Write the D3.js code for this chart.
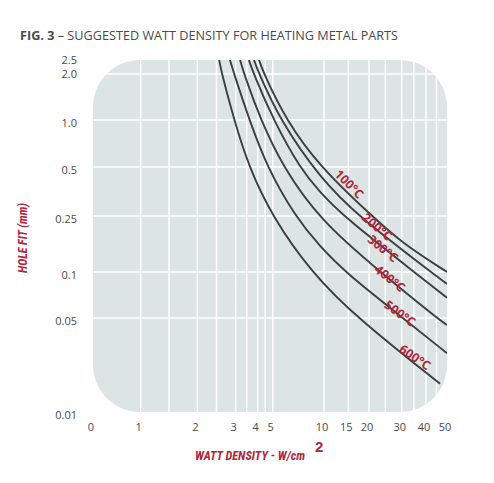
<!DOCTYPE html>
<html><head><meta charset="utf-8">
<script src="https://cdn.jsdelivr.net/npm/d3@7"></script>
<style>body{margin:0;background:#fff} svg{display:block}</style>
</head><body><svg id="c" width="494" height="483"></svg>
<script>
// ---- data ----
const xTicks = [0, 1, 2, 3, 4, 5, 10, 15, 20, 30, 40, 50];
const xMinorGrid = [1.5, 2.5, 3.5, 4.5, 25, 35, 45];
const yTicks = [0.01, 0.05, 0.1, 0.25, 0.5, 1.0, 2.0, 2.5];
const yTickLabels = ["0.01", "0.05", "0.1", "0.25", "0.5", "1.0", "2.0", "2.5"];
const yGrid = [0.05, 0.1, 0.25, 0.5, 1.0, 2.0];
const seriesNames = ["100°C", "200°C", "300°C", "400°C", "500°C", "600°C"];
const c100 = [[4.09,2.5],[4.42,2.0],[6.3,1.0],[9.61,0.5],[20.9,0.25],[30,0.178],[50,0.1]];
const c200 = [[3.83,2.5],[4.1,2.0],[5.71,1.0],[9.61,0.444],[17.3,0.25],[42.4,0.1],[50,0.087]];
const c300 = [[3.6,2.5],[3.82,2.0],[5.06,1.0],[7.76,0.485],[9.61,0.372],[13.9,0.25],[35.1,0.1],[50,0.072]];
const c400 = [[3.2,2.5],[3.38,2.0],[4.2,1.0],[6.0,0.5],[9.61,0.239],[23.4,0.1],[45.2,0.05],[50,0.047]];
const c500 = [[2.85,2.5],[2.96,2.0],[3.62,1.0],[4.62,0.5],[7.17,0.25],[9.61,0.168],[14.3,0.1],[30.5,0.05],[50,0.035]];
const c600 = [[2.57,2.5],[2.64,2.0],[2.96,1.0],[3.6,0.5],[4.95,0.25],[8.73,0.1],[17.1,0.05],[46.7,0.022]];
const labelX = [15.24, 22.5, 24.3, 26.4, 29.5, 35.5];
const labelY = [0.413, 0.221, 0.163, 0.093, 0.055, 0.0333];
const labelAngle = [45, 40, 39, 39, 36, 34];

// ---- layout ----
const svg = d3.select("#c");
const x = d3.scaleLinear().domain(xTicks)
  .range([93, 140.7, 197.3, 235.7, 257.7, 272.7, 324, 348.3, 369, 401.7, 426, 447]);
const y = d3.scaleLinear().domain(yTicks)
  .range([412, 318, 272, 216, 167, 120, 74, 60]);

const RED = "#b2253b", GREY = "#4a4a4a";
const px0 = x(0), px1 = x(50), py0 = y(2.5), py1 = y(0.01);

svg.append("defs").append("clipPath").attr("id", "plotclip")
  .append("rect").attr("x", px0).attr("y", py0)
  .attr("width", px1 - px0).attr("height", py1 - py0).attr("rx", 47).attr("ry", 47);

svg.append("rect").attr("x", px0).attr("y", py0)
  .attr("width", px1 - px0).attr("height", py1 - py0).attr("rx", 47).attr("ry", 47)
  .attr("fill", "#dde5e4");

const g = svg.append("g").attr("clip-path", "url(#plotclip)");
const vgrid = xTicks.filter(v => v > 0 && v < 50).concat(xMinorGrid);
g.selectAll("line.v").data(vgrid).join("line").attr("class", "v")
  .attr("x1", d => x(d)).attr("x2", d => x(d)).attr("y1", py0).attr("y2", py1)
  .attr("stroke", "#fff").attr("stroke-width", 1.5);
g.selectAll("line.h").data(yGrid).join("line").attr("class", "h")
  .attr("y1", d => y(d)).attr("y2", d => y(d)).attr("x1", px0).attr("x2", px1)
  .attr("stroke", "#fff").attr("stroke-width", 1.5);

const line = d3.line().x(d => x(d[0])).y(d => y(d[1])).curve(d3.curveBasis);
g.selectAll("path.curve").data([c100, c200, c300, c400, c500, c600]).join("path")
  .attr("class", "curve").attr("d", line)
  .attr("fill", "none").attr("stroke", "#3a3f40").attr("stroke-width", 1.9);

// curve labels
svg.selectAll("text.lab").data(seriesNames).join("text").attr("class", "lab")
  .attr("transform", (d, i) => `translate(${x(labelX[i])},${y(labelY[i])}) rotate(${labelAngle[i]})`)
  .attr("text-anchor", "middle").attr("dominant-baseline", "central")
  .attr("font-family", "'Open Sans', 'Noto Sans', sans-serif").attr("font-weight", 700)
  .attr("font-size", 12.5).attr("fill", RED).text(d => d);

// axes
const xAxis = svg.append("g").attr("transform", `translate(0,${py1 + 15})`)
  .call(d3.axisBottom(x).tickValues(xTicks).tickSize(0).tickPadding(0).tickFormat(d3.format("d")));
xAxis.select(".domain").remove();
xAxis.selectAll("text").attr("x", -2.5).attr("dy", "0.32em")
  .attr("font-family", "'Open Sans', 'Noto Sans', sans-serif").attr("font-size", 11).attr("fill", GREY);

const yAxis = svg.append("g").attr("transform", `translate(77,0)`)
  .call(d3.axisLeft(y).tickValues(yTicks).tickSize(0).tickPadding(0).tickFormat((d, i) => yTickLabels[i]));
yAxis.select(".domain").remove();
yAxis.selectAll("text").attr("y", d => d >= 2 ? 0 : 3)
  .attr("font-family", "'Open Sans', 'Noto Sans', sans-serif").attr("font-size", 11).attr("fill", GREY);

// titles
const title = svg.append("text").attr("x", 20).attr("y", 40)
  .attr("font-family", "'Open Sans', 'Noto Sans', sans-serif").attr("font-size", 12.5).attr("fill", GREY)
  .attr("textLength", 378).attr("lengthAdjust", "spacingAndGlyphs");
title.append("tspan").attr("font-weight", 700).text("FIG. 3");
title.append("tspan").text(" – SUGGESTED WATT DENSITY FOR HEATING METAL PARTS");

svg.append("text").attr("x", 195).attr("y", 460)
  .attr("font-family", "'Liberation Sans Narrow', 'Roboto Condensed', sans-serif")
  .attr("font-weight", 700).attr("font-style", "italic").attr("font-size", 12.5).attr("fill", RED)
  .attr("textLength", 110).attr("lengthAdjust", "spacingAndGlyphs")
  .text("WATT DENSITY - W/cm");
svg.append("text").attr("x", 315).attr("y", 452)
  .attr("font-family", "'Liberation Sans Narrow', sans-serif")
  .attr("font-weight", 700).attr("font-size", 15).attr("fill", RED).text("2");

svg.append("text").attr("transform", "translate(27,238) rotate(-90)")
  .attr("text-anchor", "middle")
  .attr("font-family", "'Liberation Sans Narrow', 'Roboto Condensed', sans-serif")
  .attr("font-weight", 700).attr("font-style", "italic").attr("font-size", 13).attr("fill", RED)
  .attr("textLength", 70).attr("lengthAdjust", "spacingAndGlyphs")
  .text("HOLE FIT (mm)");
</script>
</body></html>
